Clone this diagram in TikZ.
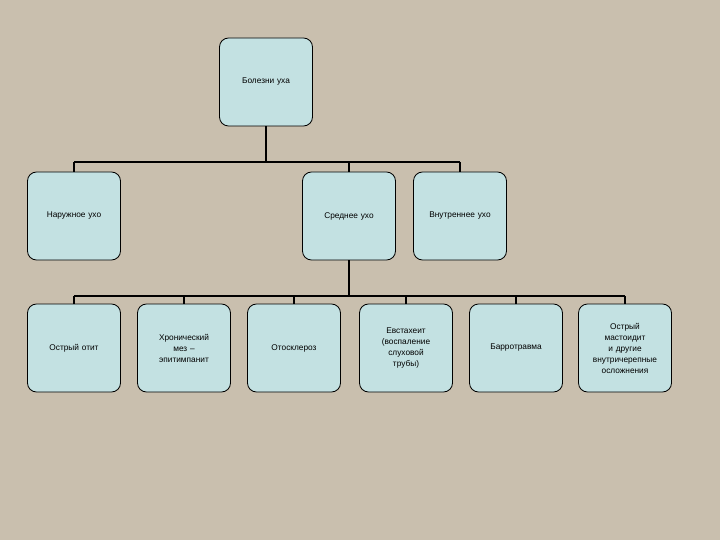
\documentclass[tikz,border=0pt]{standalone}
\usepackage{fontspec}
\setmainfont{Liberation Sans}
\definecolor{bg}{HTML}{C9BFAE}
\definecolor{bx}{HTML}{C3E1E2}
\begin{document}
\begin{tikzpicture}[x=1pt,y=-1pt,
  box/.style={draw=black,line width=0.8pt,fill=bx,rounded corners=9pt,minimum width=93pt,minimum height=88pt,align=center,font=\fontsize{8.3}{11}\selectfont,text width=86pt,inner sep=0pt},
  ln/.style={line width=1.6pt}]
\fill[bg] (0,0) rectangle (720,540);
\node[box] (top) at (266,82) {Болезни уха};
\node[box] (n) at (74,216) {Наружное ухо};
\node[box] (m) at (349,216) {Среднее ухо};
\node[box] (i) at (460,216) {Внутреннее ухо};
\node[box] (a) at (74,348) {Острый отит};
\node[box] (b) at (184,348) {Хронический\\мез --\\эпитимпанит};
\node[box] (c) at (294,348) {Отосклероз};
\node[box] (d) at (406,348) {Евстахеит\\(воспаление\\слуховой\\трубы)};
\node[box] (e) at (516,348) {Барротравма};
\node[box] (f) at (625,348) {Острый\\мастоидит\\и другие\\внутричерепные\\осложнения};
\coordinate (h1) at (266,162);
\coordinate (h2) at (349,296);
\draw[ln] (top.south) -- (h1);
\draw[ln] (n.north |- h1) -- (i.north |- h1);
\foreach \k in {n,m,i} \draw[ln] (\k.north |- h1) -- (\k.north);
\draw[ln] (m.south) -- (h2);
\draw[ln] (a.north |- h2) -- (f.north |- h2);
\foreach \k in {a,b,c,d,e,f} \draw[ln] (\k.north |- h2) -- (\k.north);
\end{tikzpicture}
\end{document}
